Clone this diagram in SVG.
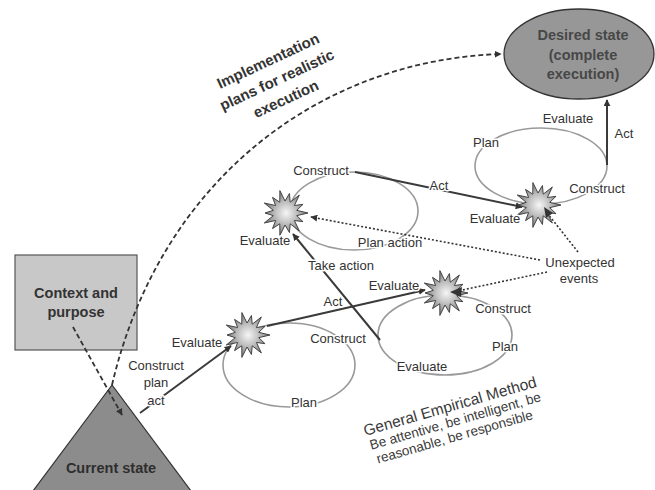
<svg xmlns="http://www.w3.org/2000/svg" width="655" height="490" viewBox="0 0 655 490">
<defs>
<style>
.lbl{font-family:"Liberation Sans",Arial,sans-serif;font-size:13px;fill:#333;text-anchor:middle;stroke:#fff;stroke-width:3px;paint-order:stroke;stroke-linejoin:round}
.bold{font-family:"Liberation Sans",Arial,sans-serif;font-weight:bold;text-anchor:middle}
.loop{fill:none;stroke:#999;stroke-width:1.6}
.solid{fill:none;stroke:#3a3a3a;stroke-width:2;marker-end:url(#ah)}
.dash{fill:none;stroke:#333;stroke-width:1.8;stroke-dasharray:5 3;marker-end:url(#ah)}
.dot{fill:none;stroke:#333;stroke-width:1.6;stroke-dasharray:2 2;marker-end:url(#ah)}
.burst{fill:url(#bg);stroke:#444;stroke-width:1}
</style>
<radialGradient id="bg" cx="0.5" cy="0.5" r="0.5">
<stop offset="0" stop-color="#f6f6f6"/>
<stop offset="0.5" stop-color="#bdbdbd"/>
<stop offset="1" stop-color="#7a7a7a"/>
</radialGradient>
<marker id="ah" viewBox="0 0 10 10" refX="9" refY="5" markerWidth="7" markerHeight="7" markerUnits="userSpaceOnUse" orient="auto">
<path d="M0,0 L10,5 L0,10 z" fill="#333"/>
</marker>
<polygon id="star" points="23,0 11.7,2.67 18.02,8.68 9.38,7.48 14.34,17.98 5.21,10.81 4.45,19.5 0,12 -5.12,22.42 -5.21,10.81 -12.47,15.64 -9.38,7.48 -20.72,9.98 -11.7,2.67 -20,0 -11.7,-2.67 -20.72,-9.98 -9.38,-7.48 -12.47,-15.64 -5.21,-10.81 -5.12,-22.42 0,-12 4.45,-19.5 5.21,-10.81 14.34,-17.98 9.38,-7.48 18.02,-8.68 11.7,-2.67"/>
</defs>
<rect width="655" height="490" fill="#fff"/>

<g id="loops">
<ellipse class="loop" cx="289" cy="365" rx="66" ry="42"/>
<ellipse class="loop" cx="445" cy="335" rx="67" ry="40"/>
<ellipse class="loop" cx="354" cy="211" rx="64" ry="39"/>
<ellipse class="loop" cx="541" cy="166" rx="66" ry="38"/>
</g>

<g id="desired">
<ellipse cx="579" cy="54" rx="75" ry="45" fill="#979797" stroke="#333" stroke-width="1.3"/>
<text class="bold" x="583" y="40" font-size="14.5" fill="#474747">Desired state</text>
<text class="bold" x="583" y="60" font-size="14.5" fill="#474747">(complete</text>
<text class="bold" x="583" y="79" font-size="14.5" fill="#474747">execution)</text>
</g>

<g id="context">
<rect x="15" y="255" width="122" height="95" fill="#c8c8c8" stroke="#555" stroke-width="1.2"/>
<text class="bold" x="76" y="298" font-size="14.5" fill="#333">Context and</text>
<text class="bold" x="76" y="317" font-size="14.5" fill="#333">purpose</text>
</g>

<g id="current">
<polygon points="112,385 30,495 194,495" fill="#8c8c8c" stroke="#333" stroke-width="1.2"/>
<text class="bold" x="111" y="473" font-size="14.5" fill="#2e2e2e">Current state</text>
</g>

<g id="connectors">
<path class="dash" d="M112,385 C160,180 320,60 501,54"/>
<path class="dash" d="M73,327 L122,415"/>
<path class="solid" d="M140,413 L231,346"/>
<path class="solid" d="M267,326 L425,290"/>
<path class="solid" d="M380,340 L293,234"/>
<path class="solid" d="M355,172 L522,207"/>
<path class="solid" d="M607,165 L607,100"/>
<path class="dot" d="M547,272 L453,292"/>
<path class="dot" d="M540,260 L311,217"/>
<path class="dot" d="M578,252 L544,209"/>
</g>

<g id="burst1"><use href="#star" class="burst" x="247" y="335"/></g>
<g id="burst2"><use href="#star" class="burst" x="445" y="293"/></g>
<g id="burst3"><use href="#star" class="burst" x="538" y="205"/></g>
<g id="burst4"><use href="#star" class="burst" x="285" y="213"/></g>

<g id="arrowtips">
<path d="M462,287 L450,292 L461,297 z" fill="#333"/>
<path d="M553,213 L544,207 L546,218 z" fill="#333"/>
</g>

<g id="labels">
<text class="lbl" x="321" y="175">Construct</text>
<text class="lbl" x="265" y="245">Evaluate</text>
<text class="lbl" x="390" y="247">Plan action</text>
<text class="lbl" x="341" y="270">Take action</text>
<text class="lbl" x="333" y="306">Act</text>
<text class="lbl" x="394" y="290">Evaluate</text>
<text class="lbl" x="338" y="343">Construct</text>
<text class="lbl" x="304" y="407">Plan</text>
<text class="lbl" x="197" y="347">Evaluate</text>
<text class="lbl" x="156" y="370">Construct</text>
<text class="lbl" x="156" y="387">plan</text>
<text class="lbl" x="156" y="405">act</text>
<text class="lbl" x="503" y="313">Construct</text>
<text class="lbl" x="505" y="351">Plan</text>
<text class="lbl" x="422" y="371">Evaluate</text>
<text class="lbl" x="580" y="267">Unexpected</text>
<text class="lbl" x="579" y="283">events</text>
<text class="lbl" x="568" y="123">Evaluate</text>
<text class="lbl" x="486" y="147">Plan</text>
<text class="lbl" x="597" y="193">Construct</text>
<text class="lbl" x="495" y="223">Evaluate</text>
<text class="lbl" x="624" y="138">Act</text>
<text class="lbl" x="439" y="190">Act</text>
</g>

<g id="impl" transform="translate(277,80) rotate(-25)">
<text class="bold" x="0" y="-16" font-size="15" fill="#333">Implementation</text>
<text class="bold" x="0" y="5" font-size="15" fill="#333">plans for realistic</text>
<text class="bold" x="0" y="26" font-size="15" fill="#333">execution</text>
</g>

<g id="gem" transform="translate(454,424) rotate(-16)" font-family="Liberation Sans, Arial, sans-serif" fill="#3a3a3a" text-anchor="middle">
<text x="1" y="-13" font-size="15.5">General Empirical Method</text>
<text x="2" y="2" font-size="13.5">Be attentive, be intelligent, be</text>
<text x="-3" y="17" font-size="13.5">reasonable, be responsible</text>
</g>
</svg>
